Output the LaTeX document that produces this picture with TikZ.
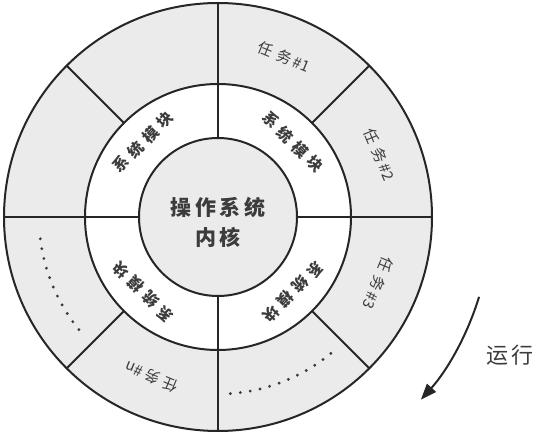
\documentclass[tikz,border=0pt]{standalone}
\usepackage{fontspec}
\newfontfamily\cjk{Noto Sans CJK SC}
\newfontfamily\cjkK[LetterSpace=18]{Noto Sans CJK SC}
\newfontfamily\cjkM[LetterSpace=35]{Noto Sans CJK SC}
\usetikzlibrary{arrows.meta}
\definecolor{linec}{HTML}{262626}
\definecolor{ringgray}{HTML}{EBEBEB}
\definecolor{txtc}{HTML}{3C3C3C}
\newcommand{\tsk}[1]{任\hspace{5pt}务\hspace{3pt}\#\hspace{0.5pt}#1}
\begin{document}
\begin{tikzpicture}[x=1pt,y=1pt,
  ring/.style={circle,draw=linec,line width=2pt,inner sep=0pt,outer sep=0pt},
  divider/.style={draw=linec,line width=2pt},
  tasklabel/.style={font=\cjk\fontsize{15}{15}\selectfont,text=txtc,inner sep=0pt},
  modlabel/.style={font=\cjkM\bfseries\fontsize{15.5}{15.5}\selectfont,text=txtc,inner sep=0pt},
  dots/.style={draw=txtc,line width=3.2pt,line cap=round,dash pattern=on 0pt off 10pt},
  runarrow/.style={draw=linec,line width=2pt,-{Triangle[length=16pt,width=12pt]}}
]
\useasboundingbox (0,0) rectangle (536,434);
\coordinate (c) at (218,217);
\node[ring,fill=ringgray,minimum size=428pt] (outer) at (c) {};
\node[ring,fill=white,minimum size=266pt] (middle) at (c) {};
\node[ring,fill=ringgray,minimum size=158pt] (kernel) at (c) {};
\node[font=\cjkK\bfseries\fontsize{21}{30}\selectfont,text=txtc,align=center] (ktext) at ([yshift=-5pt]c) {操作系统\\内核};
% quadrant dividers
\draw[divider] (kernel.90) -- (outer.90);
\draw[divider] (kernel.0) -- (outer.0);
\draw[divider] (kernel.180) -- (outer.180);
\draw[divider] (kernel.270) -- (outer.270);
% outer ring dividers
\draw[divider] (middle.45) -- (outer.45);
\draw[divider] (middle.135) -- (outer.135);
\draw[divider] (middle.225) -- (outer.225);
\draw[divider] (middle.315) -- (outer.315);
% module labels
\node[modlabel,rotate=45] (m1) at ([shift={(135:106)}]c) {系统模块};
\node[modlabel,rotate=-45] (m2) at ([shift={(45:106)}]c) {系统模块};
\node[modlabel,rotate=-135] (m3) at ([shift={(-45:106)}]c) {系统模块};
\node[modlabel,rotate=135] (m4) at ([shift={(-135:106)}]c) {系统模块};
% task labels
\node[tasklabel,rotate=-22.5] (t1) at ([shift={(67.5:173)}]c) {\tsk{1}};
\node[tasklabel,rotate=-67.5] (t2) at ([shift={(21:173)}]c) {\tsk{2}};
\node[tasklabel,rotate=-112.5] (t3) at ([shift={(-22.5:173)}]c) {\tsk{3}};
\node[tasklabel,rotate=-202.5] (tn) at ([shift={(-112.5:173)}]c) {\tsk{n}};
% dotted arcs
\draw[dots] ([shift={(187:179)}]c) arc[start angle=187,end angle=221,radius=179];
\draw[dots] ([shift={(-86:177)}]c) arc[start angle=-86,end angle=-50,radius=177];
% run arrow
\coordinate (arrS) at ([shift={(-17:273)}]c);
\draw[runarrow] (arrS) arc[start angle=-17,end angle=-42,radius=273];
\node[font=\cjkK\fontsize{22}{22}\selectfont,text=txtc,inner sep=0pt] (run) at (510,79) {运行};
\end{tikzpicture}
\end{document}
